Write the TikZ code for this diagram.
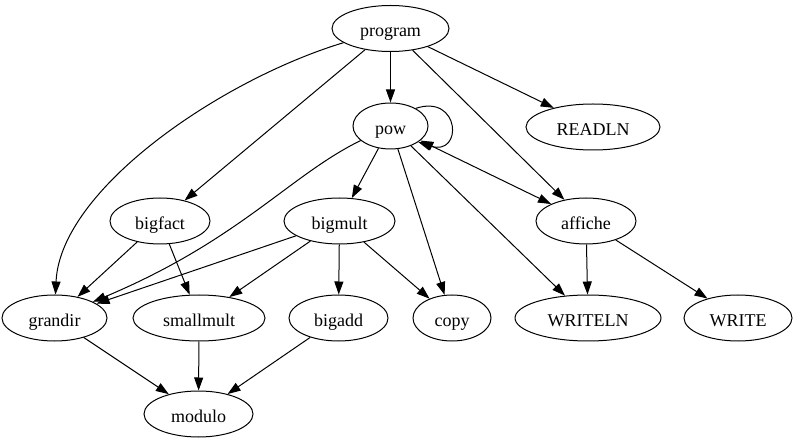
\documentclass[tikz,border=0pt]{standalone}
\usepackage{fontspec}
\setmainfont{Liberation Serif}
\usetikzlibrary{arrows.meta,shapes.geometric}

\begin{document}
\begin{tikzpicture}[x=1pt,y=-1pt,
  proc/.style={draw,ellipse,line width=1pt,inner sep=0pt,minimum height=46pt,
    text height=18pt,text depth=1pt,font=\fontsize{18}{22}\selectfont},
  call/.style={line width=1pt,-{Triangle[length=13pt,width=9pt]}}]

\useasboundingbox (0,0) rectangle (800,443);

% Niveau 0
\node[proc,minimum width=117pt] (program) at (390.5,28.5) {program};

% Niveau 1
\node[proc,minimum width=75pt] (pow) at (390.5,126) {pow};
\node[proc,minimum width=134pt] (readln) at (593,127) {READLN};

% Niveau 2
\node[proc,minimum width=100pt] (bigfact) at (160,221) {bigfact};
\node[proc,minimum width=111pt] (bigmult) at (339.5,221) {bigmult};
\node[proc,minimum width=100pt] (affiche) at (586,221) {affiche};

% Niveau 3
\node[proc,minimum width=105pt] (grandir) at (54.5,318) {grandir};
\node[proc,minimum width=132pt] (smallmult) at (199,318) {smallmult};
\node[proc,minimum width=99pt] (bigadd) at (338.5,318) {bigadd};
\node[proc,minimum width=78pt] (copy) at (452,318) {copy};
\node[proc,minimum width=146pt] (writeln) at (588,318) {WRITELN};
\node[proc,minimum width=108pt] (write) at (738,318) {WRITE};

% Niveau 4
\node[proc,minimum width=109pt] (modulo) at (198.5,414) {modulo};

% Appels de program
\draw[call] (program) -- (pow);
\draw[call] (program) -- (readln);
\draw[call] (program) -- (affiche);
\draw[call] (program) -- (bigfact);
\draw[call] (program) .. controls (220,80) and (60,190) .. (grandir);

% Appels de pow
\draw[call] (pow.35) .. controls +(45,-15) and +(45,15) .. (pow.-30);
\draw[call,{Triangle[length=13pt,width=9pt]}-{Triangle[length=13pt,width=9pt]}]
  (pow) -- (affiche);
\draw[call] (pow) -- (bigmult);
\draw[call] (pow) .. controls (290,175) and (240,240) .. (grandir);
\draw[call] (pow) -- (copy);
\draw[call] (pow) -- (writeln);

% Appels de bigfact et bigmult
\draw[call] (bigfact) -- (grandir);
\draw[call] (bigfact) -- (smallmult);
\draw[call] (bigmult) -- (grandir);
\draw[call] (bigmult) -- (smallmult);
\draw[call] (bigmult) -- (bigadd);
\draw[call] (bigmult) -- (copy);

% Appels de affiche
\draw[call] (affiche) -- (writeln);
\draw[call] (affiche) -- (write);

% Vers modulo
\draw[call] (grandir) -- (modulo);
\draw[call] (smallmult) -- (modulo);
\draw[call] (bigadd) -- (modulo);

\end{tikzpicture}
\end{document}
